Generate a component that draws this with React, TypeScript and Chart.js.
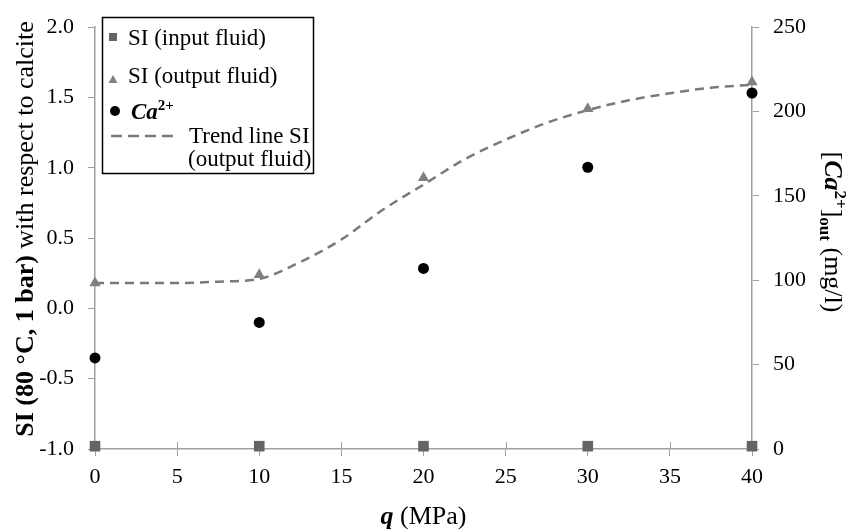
import React, { useEffect, useRef } from "react";
import { Chart, registerables } from "chart.js";
Chart.register(...registerables);

// ---- data ----
const pressureMPa = [0, 10, 20, 30, 40];
const siInputFluid = [-0.98, -0.98, -0.98, -0.98, -0.98];
const siOutputFluid = [0.18, 0.24, 0.93, 1.42, 1.61];
const caOutMgL = [54, 75, 107, 167, 211];
const trendPressure = [0, 2.5, 5, 7.5, 10, 12.5, 15, 17.5, 20, 22.5, 25, 27.5, 30, 32.5, 35, 37.5, 40];
const trendSI = [0.18, 0.18, 0.18, 0.19, 0.21, 0.33, 0.49, 0.7, 0.88, 1.06, 1.2, 1.32, 1.41, 1.48, 1.53, 1.57, 1.59];
const xTickValues = [0, 5, 10, 15, 20, 25, 30, 35, 40];
const leftTickValues = [-1.0, -0.5, 0.0, 0.5, 1.0, 1.5, 2.0];
const rightTickValues = [0, 50, 100, 150, 200, 250];

const SERIF = '"Liberation Serif", "Times New Roman", serif';
const AXIS_GRAY = "#a0a0a0";
const SQUARE_COLOR = "#646464";
const TRIANGLE_COLOR = "#808080";
const TREND_COLOR = "#7a7a7a";

type Seg = { t: string; font: string; dy?: number };

function segWidth(ctx: CanvasRenderingContext2D, segs: Seg[]) {
  let w = 0;
  for (const s of segs) {
    ctx.font = s.font;
    w += ctx.measureText(s.t).width;
  }
  return w;
}

function drawSegs(ctx: CanvasRenderingContext2D, segs: Seg[], x: number, y: number) {
  let cx = x;
  ctx.textBaseline = "alphabetic";
  ctx.textAlign = "left";
  for (const s of segs) {
    ctx.font = s.font;
    ctx.fillText(s.t, cx, y + (s.dy || 0));
    cx += ctx.measureText(s.t).width;
  }
}

const decorPlugin = {
  id: "decor",
  beforeDatasetsDraw(chart: any) {
    const ctx: CanvasRenderingContext2D = chart.ctx;
    const area = chart.chartArea;
    const xs = chart.scales.x;
    ctx.save();
    // inward half of x tick marks (ticks cross the axis)
    ctx.strokeStyle = AXIS_GRAY;
    ctx.lineWidth = 1;
    for (const v of xTickValues) {
      const px = Math.round(xs.getPixelForValue(v)) + 0.5;
      ctx.beginPath();
      ctx.moveTo(px, area.bottom - 7);
      ctx.lineTo(px, area.bottom);
      ctx.stroke();
    }
    ctx.restore();
  },
  afterDraw(chart: any) {
    const ctx: CanvasRenderingContext2D = chart.ctx;
    const area = chart.chartArea;
    ctx.save();

    ctx.fillStyle = "#000";
    // x title
    const xTitle: Seg[] = [
      { t: "q", font: `italic bold 26px ${SERIF}` },
      { t: " (MPa)", font: `26px ${SERIF}` },
    ];
    const xw = segWidth(ctx, xTitle);
    drawSegs(ctx, xTitle, (area.left + area.right) / 2 - xw / 2, 524);

    // left title
    const lTitle: Seg[] = [
      { t: "SI (80 °C, 1 bar)", font: `bold 26px ${SERIF}` },
      { t: " with respect to calcite", font: `26px ${SERIF}` },
    ];
    const lw = segWidth(ctx, lTitle);
    ctx.save();
    ctx.translate(33, 229);
    ctx.rotate(-Math.PI / 2);
    drawSegs(ctx, lTitle, -lw / 2, 0);
    ctx.restore();

    // right title
    const rTitle: Seg[] = [
      { t: "[", font: `26px ${SERIF}` },
      { t: "Ca", font: `italic bold 26px ${SERIF}` },
      { t: "2+", font: `bold 17px ${SERIF}`, dy: -10 },
      { t: "]", font: `26px ${SERIF}` },
      { t: "out", font: `bold 17px ${SERIF}`, dy: 5 },
      { t: " (mg/l)", font: `26px ${SERIF}` },
    ];
    const rw = segWidth(ctx, rTitle);
    ctx.save();
    ctx.translate(825, 232);
    ctx.rotate(Math.PI / 2);
    drawSegs(ctx, rTitle, -rw / 2, 0);
    ctx.restore();

    // legend box
    ctx.fillStyle = "#fff";
    ctx.fillRect(102.5, 17.5, 211, 156);
    ctx.strokeStyle = "#000";
    ctx.lineWidth = 1.5;
    ctx.strokeRect(102.5, 17.5, 211, 156);

    const lf = `23px ${SERIF}`;
    // square
    ctx.fillStyle = SQUARE_COLOR;
    ctx.fillRect(109, 33, 8, 8);
    ctx.fillStyle = "#000";
    drawSegs(ctx, [{ t: "SI (input fluid)", font: lf }], 128, 45);
    // triangle
    ctx.fillStyle = TRIANGLE_COLOR;
    ctx.beginPath();
    ctx.moveTo(113, 75);
    ctx.lineTo(117.5, 83);
    ctx.lineTo(108.5, 83);
    ctx.closePath();
    ctx.fill();
    ctx.fillStyle = "#000";
    drawSegs(ctx, [{ t: "SI (output fluid)", font: lf }], 128, 83);
    // circle
    ctx.beginPath();
    ctx.arc(115, 111, 5, 0, Math.PI * 2);
    ctx.fill();
    drawSegs(
      ctx,
      [
        { t: "Ca", font: `italic bold 23px ${SERIF}` },
        { t: "2+", font: `bold 15px ${SERIF}`, dy: -9 },
      ],
      131,
      119
    );
    // dashed line
    ctx.strokeStyle = TREND_COLOR;
    ctx.lineWidth = 2.5;
    ctx.setLineDash([11, 6]);
    ctx.beginPath();
    ctx.moveTo(111, 136);
    ctx.lineTo(175, 136);
    ctx.stroke();
    ctx.setLineDash([]);
    ctx.fillStyle = "#000";
    drawSegs(ctx, [{ t: "Trend line SI", font: lf }], 189, 143);
    drawSegs(ctx, [{ t: "(output fluid)", font: lf }], 188, 166);

    ctx.restore();
  },
};

export default function App() {
  const ref = useRef<HTMLCanvasElement | null>(null);

  useEffect(() => {
    if (!ref.current) return;
    const tickFont = { family: SERIF, size: 22 };
    const chart = new Chart(ref.current, {
      type: "scatter",
      data: {
        datasets: [
          {
            label: "SI (input fluid)",
            data: pressureMPa.map((x, i) => ({ x, y: siInputFluid[i] })),
            pointStyle: "rect",
            pointRadius: 7.5,
            backgroundColor: SQUARE_COLOR,
            borderColor: SQUARE_COLOR,
            borderWidth: 0,
            yAxisID: "y",
            clip: false,
            order: 1,
          },
          {
            label: "SI (output fluid)",
            data: pressureMPa.map((x, i) => ({ x, y: siOutputFluid[i] })),
            pointStyle: "triangle",
            pointRadius: 6.5,
            backgroundColor: TRIANGLE_COLOR,
            borderColor: TRIANGLE_COLOR,
            borderWidth: 0,
            yAxisID: "y",
            clip: false,
            order: 1,
          },
          {
            label: "Ca2+",
            data: pressureMPa.map((x, i) => ({ x, y: caOutMgL[i] })),
            pointStyle: "circle",
            pointRadius: 5.5,
            backgroundColor: "#000",
            borderColor: "#000",
            borderWidth: 0,
            yAxisID: "y1",
            clip: false,
            order: 0,
          },
          {
            label: "Trend line SI (output fluid)",
            data: trendPressure.map((x, i) => ({ x, y: trendSI[i] })),
            showLine: true,
            pointRadius: 0,
            borderColor: TREND_COLOR,
            borderWidth: 2.5,
            borderDash: [9, 6],
            cubicInterpolationMode: "monotone",
            fill: false,
            yAxisID: "y",
            clip: false,
            order: 5,
          } as any,
        ],
      },
      options: {
        animation: false,
        responsive: false,
        events: [],
        layout: { padding: { top: 18, left: 0, right: 0, bottom: 0 } },
        plugins: { legend: { display: false }, tooltip: { enabled: false } },
        scales: {
          x: {
            type: "linear",
            min: 0,
            max: 40,
            afterBuildTicks: (s: any) => {
              s.ticks = xTickValues.map((v) => ({ value: v }));
            },
            afterFit: (s: any) => {
              s.height = 80;
            },
            ticks: { font: tickFont, color: "#000", padding: 8, maxRotation: 0, callback: (v: any) => String(v) },
            grid: { drawOnChartArea: false, drawTicks: true, tickLength: 7, color: AXIS_GRAY },
            border: { display: true, color: AXIS_GRAY, width: 1.5 },
          },
          y: {
            type: "linear",
            position: "left",
            min: -1,
            max: 2,
            afterBuildTicks: (s: any) => {
              s.ticks = leftTickValues.map((v) => ({ value: v }));
            },
            afterFit: (s: any) => {
              s.width = 95;
            },
            ticks: { font: tickFont, color: "#000", padding: 14, callback: (v: any) => Number(v).toFixed(1) },
            grid: { drawOnChartArea: false, drawTicks: true, tickLength: 7, color: AXIS_GRAY },
            border: { display: true, color: AXIS_GRAY, width: 1.5 },
          },
          y1: {
            type: "linear",
            position: "right",
            min: 0,
            max: 250,
            afterBuildTicks: (s: any) => {
              s.ticks = rightTickValues.map((v) => ({ value: v }));
            },
            afterFit: (s: any) => {
              s.width = 96;
            },
            ticks: { font: tickFont, color: "#000", padding: 14, callback: (v: any) => String(v) },
            grid: { drawOnChartArea: false, drawTicks: true, tickLength: 7, color: AXIS_GRAY },
            border: { display: true, color: AXIS_GRAY, width: 1.5 },
          },
        },
      } as any,
      plugins: [decorPlugin],
    });
    return () => chart.destroy();
  }, []);

  return (
    <div style={{ position: "fixed", left: 0, top: 0, width: 848, height: 529, background: "#fff" }}>
      <canvas ref={ref} width={848} height={529} style={{ display: "block" }} />
    </div>
  );
}
